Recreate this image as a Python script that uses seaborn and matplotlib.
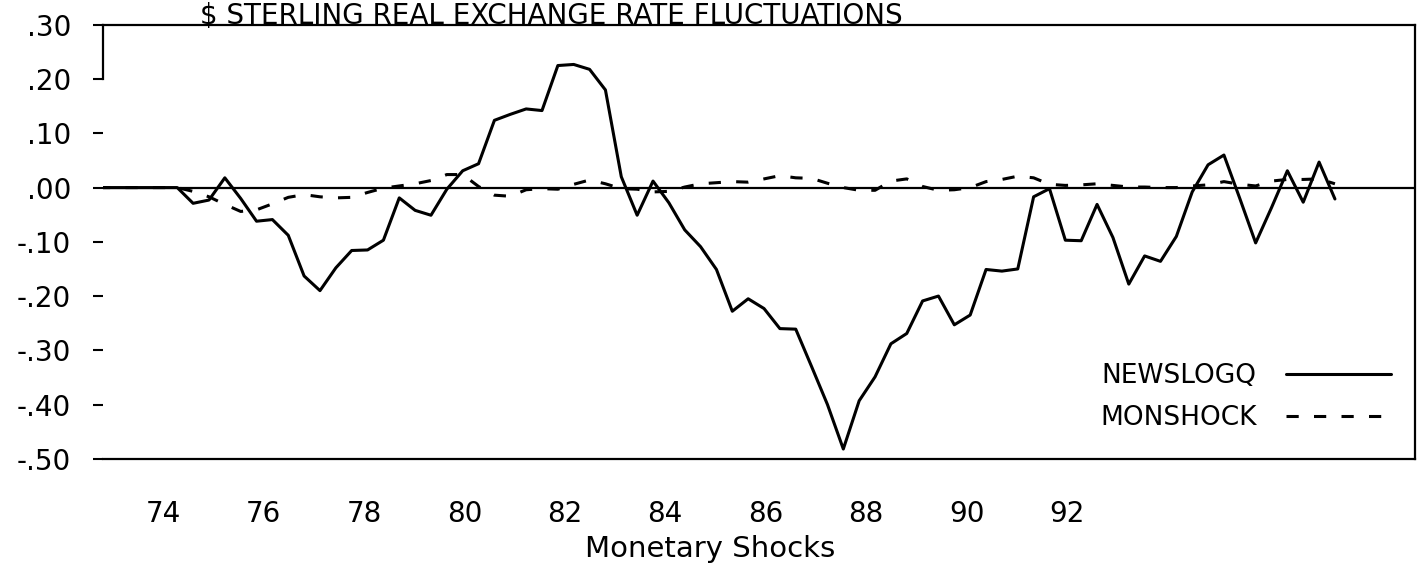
import numpy as np
import pandas as pd
import seaborn as sns
import matplotlib.pyplot as plt

newslogq = [0.0, 0.0, 0.0, 0.0, 0.0, 0.0,
            -0.029, -0.023, 0.018, -0.020, -0.062, -0.059, -0.088, -0.163,
            -0.190, -0.148, -0.116, -0.115, -0.097, -0.019, -0.042, -0.051,
            -0.003, 0.031, 0.044, 0.124, 0.135, 0.145, 0.142, 0.225,
            0.227, 0.218, 0.180, 0.020, -0.051, 0.012, -0.028, -0.078,
            -0.109, -0.151, -0.228, -0.205, -0.223, -0.260, -0.261, -0.330,
            -0.400, -0.482, -0.393, -0.349, -0.288, -0.269, -0.209, -0.200,
            -0.253, -0.235, -0.151, -0.154, -0.150, -0.017, -0.002, -0.097,
            -0.098, -0.031, -0.092, -0.178, -0.126, -0.136, -0.090, -0.008,
            0.042, 0.060, -0.020, -0.102, -0.037, 0.031, -0.027, 0.047,
            -0.021]
monshock = [0.0, 0.0, 0.0, 0.0, 0.0, 0.0,
            -0.007, -0.017, -0.031, -0.044, -0.041, -0.030, -0.018, -0.013,
            -0.017, -0.019, -0.018, -0.009, -0.001, 0.003, 0.007, 0.013,
            0.024, 0.024, 0.002, -0.014, -0.016, -0.004, -0.002, -0.003,
            0.006, 0.014, 0.007, -0.002, -0.003, -0.008, -0.007, 0.001,
            0.007, 0.009, 0.011, 0.010, 0.016, 0.022, 0.018, 0.017,
            0.008, 0.000, -0.005, -0.005, 0.012, 0.016, 0.002, -0.005,
            -0.004, 0.000, 0.011, 0.015, 0.021, 0.018, 0.006, 0.004,
            0.005, 0.007, 0.004, 0.001, 0.001, 0.000, 0.000, 0.003,
            0.005, 0.011, 0.006, 0.003, 0.012, 0.015, 0.015, 0.016,
            0.007]
year_labels = ["74", "76", "78", "80", "82", "84", "86", "88", "90", "92"]
y_ticks = [0.30, 0.20, 0.10, 0.00, -0.10, -0.20, -0.30, -0.40, -0.50]
y_labels = [".30", ".20", ".10", ".00", "-.10", "-.20", "-.30", "-.40", "-.50"]

df = pd.DataFrame({"obs": np.arange(len(newslogq)),
                   "NEWSLOGQ": newslogq,
                   "MONSHOCK": monshock})

sns.set_style("white")
plt.rcParams["font.family"] = ["DejaVu Sans"]
plt.rcParams["text.color"] = "black"
plt.rcParams["xtick.color"] = "black"
plt.rcParams["ytick.color"] = "black"
plt.rcParams["axes.labelcolor"] = "black"

fig = plt.figure(figsize=(14.21, 5.65), dpi=100)
ax = fig.add_axes([0.0725, 0.188, 0.9233, 0.768])

ax.axhline(0, color="black", lw=1.6, zorder=1)
sns.lineplot(data=df, x="obs", y="NEWSLOGQ", ax=ax, color="black",
             lw=2.2, label="NEWSLOGQ")
sns.lineplot(data=df, x="obs", y="MONSHOCK", ax=ax, color="black",
             lw=2.2, linestyle=(0, (4, 5)), label="MONSHOCK")

ax.set_xlim(0.32, 83.05)
ax.set_ylim(-0.50, 0.30)
ax.set_xticks(np.linspace(4.11, 61.1, len(year_labels)))
ax.set_xticklabels(year_labels, fontsize=20)
ax.set_yticks(y_ticks)
ax.set_yticklabels(y_labels, fontsize=20)
ax.tick_params(axis="x", length=0, pad=30)
ax.tick_params(axis="y", direction="out", length=7, width=1.5, pad=16,
               left=True)

for side in ["top", "bottom", "right", "left"]:
    ax.spines[side].set_color("black")
    ax.spines[side].set_linewidth(1.6)
ax.spines["left"].set_bounds(0.20, 0.30)

ax.set_ylabel("")
ax.set_xlabel("Monetary Shocks", fontsize=21)
ax.xaxis.set_label_coords(0.463, -0.175)

ax.legend(loc="center right", bbox_to_anchor=(0.982, 0.142),
          frameon=False, markerfirst=False, fontsize=19,
          handlelength=4.0, handletextpad=1.1, labelspacing=0.6,
          borderpad=0, borderaxespad=0)

fig.text(0.141, 0.997, "$ STERLING REAL EXCHANGE RATE FLUCTUATIONS",
         fontsize=20, ha="left", va="top")

plt.savefig("out.png", dpi=100)
